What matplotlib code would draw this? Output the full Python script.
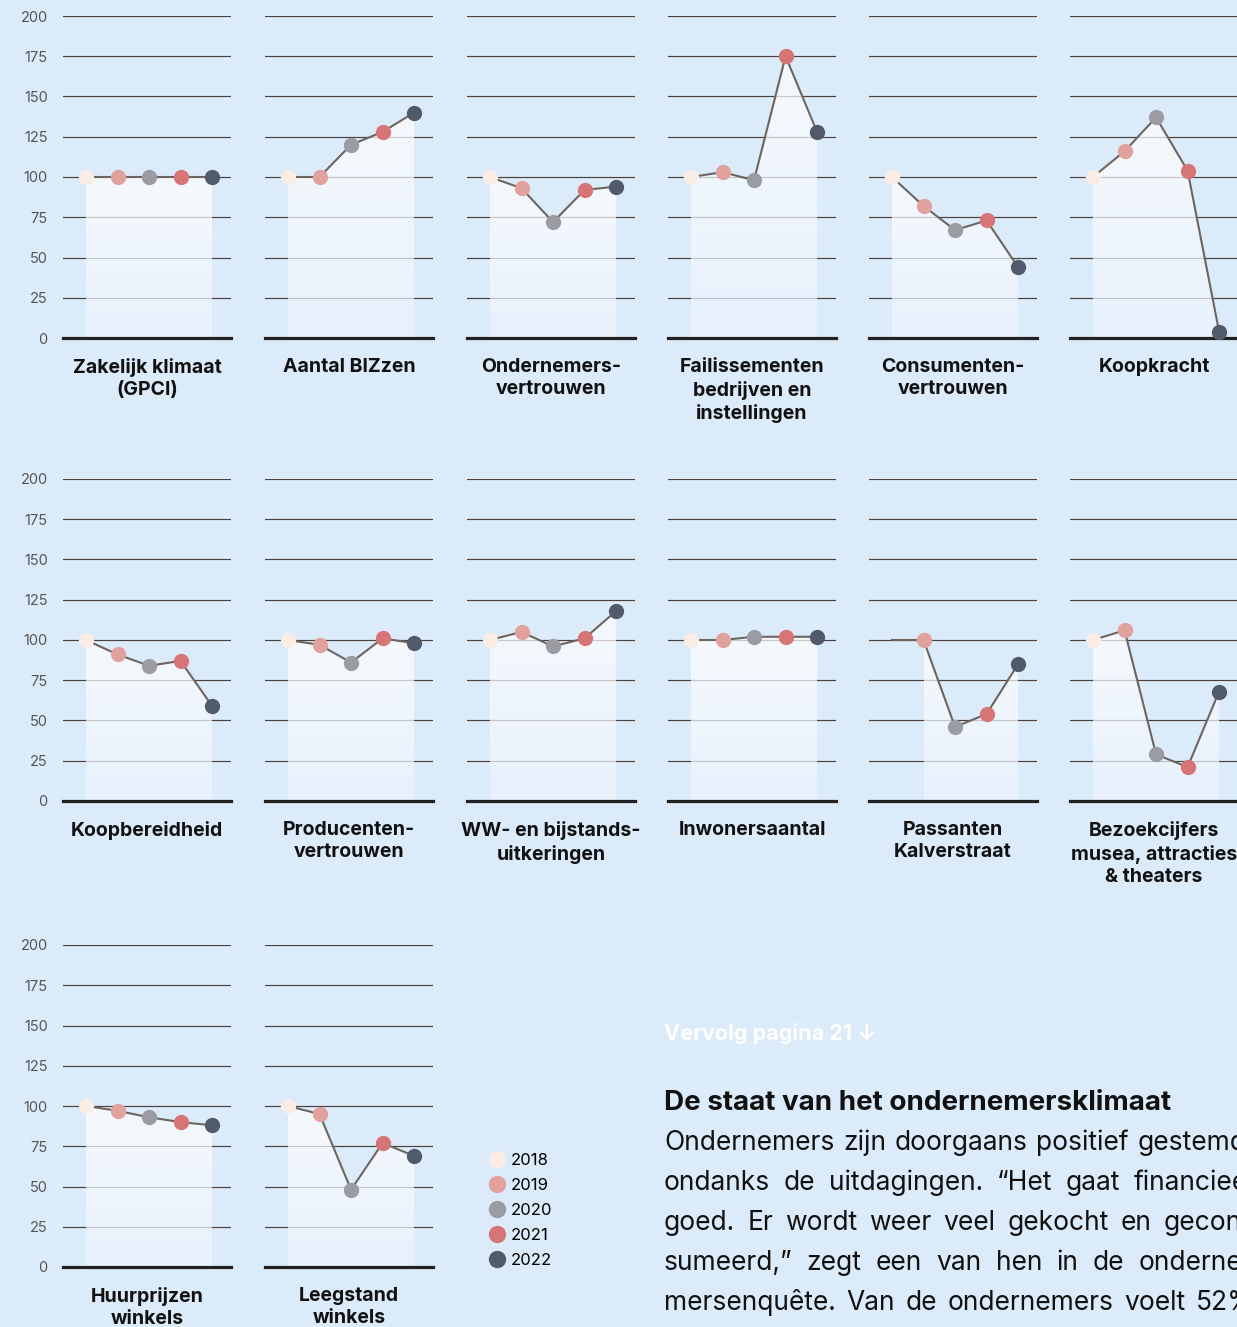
import numpy as np
import matplotlib
matplotlib.use("Agg")
import matplotlib.pyplot as plt
from matplotlib.lines import Line2D
from matplotlib.colors import to_rgb

W, H = 1237, 1327
BG = "#dcebfa"
YEAR_COLORS = ["#faede6", "#e1a29d", "#9b9ba4", "#d77475", "#515a6b"]
FONT = ["Inter", "DejaVu Sans"]

years = ["2018", "2019", "2020", "2021", "2022"]
titles = [
    "Zakelijk klimaat\n(GPCI)", "Aantal BIZzen", "Ondernemers-\nvertrouwen",
    "Failissementen\nbedrijven en\ninstellingen", "Consumenten-\nvertrouwen", "Koopkracht",
    "Koopbereidheid", "Producenten-\nvertrouwen", "WW- en bijstands-\nuitkeringen",
    "Inwonersaantal", "Passanten\nKalverstraat", "Bezoekcijfers\nmusea, attracties\n& theaters",
    "Huurprijzen\nwinkels", "Leegstand\nwinkels",
]
zakelijk = [100, 100, 100, 100, 100]
bizzen = [100, 100, 120, 128, 140]
ondernemers = [100, 93, 72, 92, 94]
failissementen = [100, 103, 98, 175, 128]
consumenten = [100, 82, 67, 73, 44]
koopkracht = [100, 116, 137, 104, 4]
koopbereidheid = [100, 91, 84, 87, 59]
producenten = [100, 97, 86, 101, 98]
uitkeringen = [100, 105, 96, 101, 118]
inwoners = [100, 100, 102, 102, 102]
passanten = [100, 100, 46, 54, 85]
bezoekers = [100, 106, 29, 21, 68]
huurprijzen = [100, 97, 93, 90, 88]
leegstand = [100, 95, 48, 77, 69]
series = [zakelijk, bizzen, ondernemers, failissementen, consumenten, koopkracht,
          koopbereidheid, producenten, uitkeringen, inwoners, passanten, bezoekers,
          huurprijzen, leegstand]
# Passanten has no 2018 measurement dot; its line starts as a flat stub
first_dot = {10: 1}

yticks = [0, 25, 50, 75, 100, 125, 150, 175, 200]

col_left = [63, 265, 467, 668, 869, 1070]
row_zero = [338, 801, 1267]
ax_w, ax_h = 168, 322

body = [
    "Ondernemers zijn doorgaans positief gestemd,",
    "ondanks de uitdagingen. “Het gaat financieel",
    "goed. Er wordt weer veel gekocht en gecon-",
    "sumeerd,” zegt een van hen in de onderne-",
    "mersenquête. Van de ondernemers voelt 52%",
]


def gradient_fill(ax, x, y):
    poly = ax.fill_between(x, 0, y, color="none", lw=0, zorder=2)
    top = max(y)
    n = 256
    c_top = np.array(to_rgb("#ffffff"))
    c_bot = np.array(to_rgb("#edf4fd"))
    t = np.linspace(0, 1, n)[:, None]
    rgb = c_bot + (c_top - c_bot) * t
    img = np.zeros((n, 2, 4))
    img[..., :3] = rgb[:, None, :]
    img[..., 3] = 0.72
    im = ax.imshow(img, extent=[x[0], x[-1], 0, top], origin="lower",
                   aspect="auto", zorder=2, interpolation="bilinear")
    im.set_clip_path(poly.get_paths()[0], transform=ax.transData)


def justified(fig, lines, x0, x1, y0, step, **kw):
    # lay out every word so each line spans x0..x1 (pixels)
    r = fig.canvas.get_renderer()
    for i, line in enumerate(lines):
        words = line.split(" ")
        y = 1 - (y0 + step * i) / H
        arts = [fig.text(0, y, w, ha="left", va="center", **kw) for w in words]
        widths = [a.get_window_extent(r).width for a in arts]
        gap = (x1 - x0 - sum(widths)) / (len(words) - 1)
        x = x0
        for a, wd in zip(arts, widths):
            a.set_x(x / W)
            x += wd + gap


fig = plt.figure(figsize=(W / 100, H / 100), dpi=100)
fig.patch.set_facecolor(BG)

for k, (title, vals) in enumerate(zip(titles, series)):
    r, c = divmod(k, 6)
    left = col_left[c] / W
    bottom = 1 - row_zero[r] / H
    ax = fig.add_axes([left, bottom, ax_w / W, ax_h / H])
    ax.set_facecolor("none")
    ax.set_xlim(-0.73, 4.6)
    ax.set_ylim(0, 200)
    for s in ax.spines.values():
        s.set_visible(False)
    for yv in yticks[1:]:
        ax.axhline(yv, color="#4a413d", lw=0.85, zorder=1)
    ax.axhline(0, color="#222222", lw=2.3, zorder=4, clip_on=False)
    ax.set_xticks([])
    ax.set_yticks(yticks)
    ax.tick_params(axis="y", length=0, pad=11, labelsize=10.5, labelcolor="#555555")
    if c != 0:
        ax.set_yticklabels([])
    for lab in ax.get_yticklabels():
        lab.set_family(FONT)

    x = np.arange(len(vals))
    f0 = first_dot.get(k, 0)
    gradient_fill(ax, x[f0:], np.array(vals[f0:], dtype=float))
    ax.plot(x, vals, color="#6d6560", lw=1.5, zorder=5, clip_on=False)
    for i in range(f0, len(vals)):
        ax.plot(x[i], vals[i], "o", ms=11, color=YEAR_COLORS[i], mec="none",
                zorder=6, clip_on=False)

    fig.text(left + ax_w / W / 2, 1 - (row_zero[r] + 20) / H, title,
             ha="center", va="top", fontsize=14, fontweight="bold",
             family=FONT, linespacing=1.3, color="#111111")

handles = [Line2D([], [], ls="none", marker="o", ms=12.5, color=col, mec="none")
           for col in YEAR_COLORS]
fig.legend(handles, years, loc="upper left",
           bbox_to_anchor=(470 / W, 1 - 1138 / H), frameon=False,
           labelspacing=0.6, handletextpad=0.15, handlelength=1.4,
           prop={"family": FONT, "size": 12})

fig.text(664 / W, 1 - 1034 / H, "Vervolg pagina 21 ↓", ha="left", va="center",
         fontsize=15.5, fontweight="bold", color="white", family=FONT)
fig.text(664 / W, 1 - 1103 / H, "De staat van het ondernemersklimaat", ha="left",
         va="center", fontsize=20, fontweight="bold", color="#111111", family=FONT)
justified(fig, body, 664, 1254, 1143, 40, fontsize=19, color="#111111", family=FONT)

fig.savefig("out.png", dpi=100, facecolor=BG)
